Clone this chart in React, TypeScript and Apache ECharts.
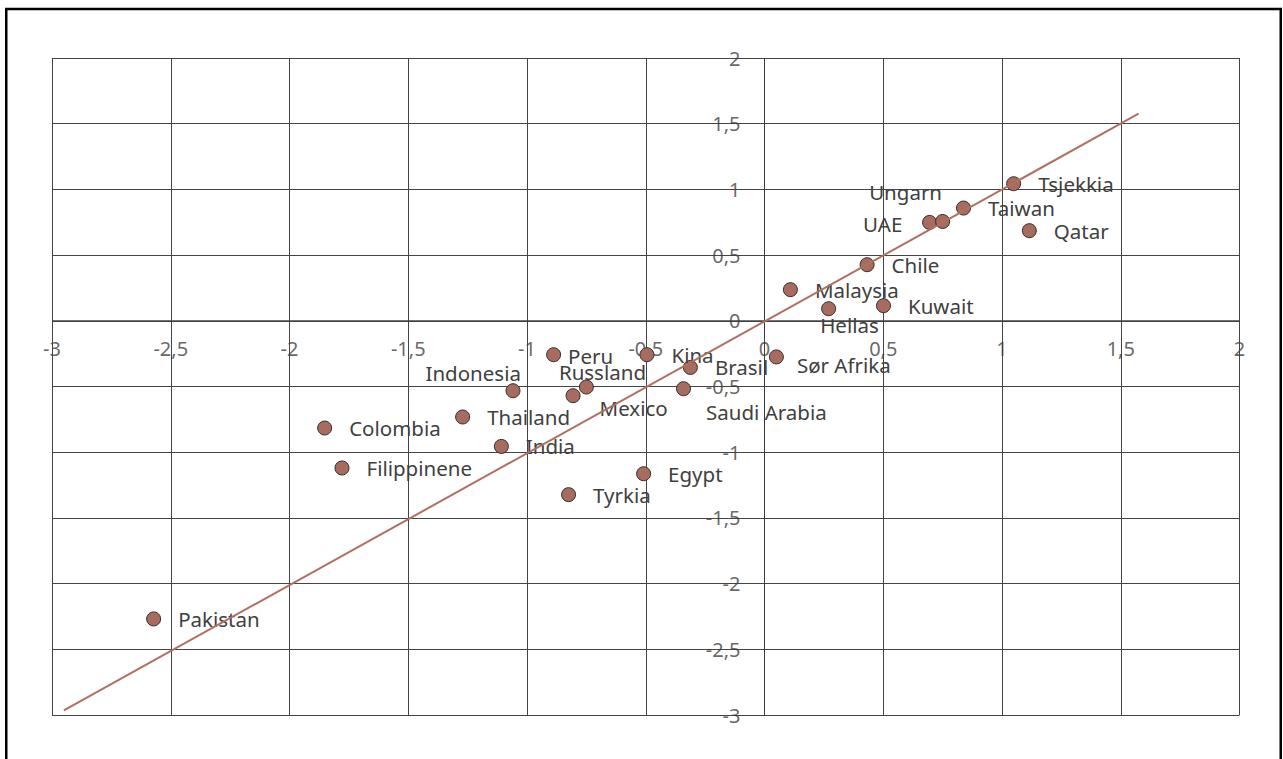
import React, { useEffect, useRef } from "react";
import * as echarts from "echarts";

const countries = [
  "Pakistan", "Colombia", "Filippinene", "Thailand", "India", "Indonesia",
  "Peru", "Russland", "Mexico", "Tyrkia", "Egypt", "Kina", "Brasil",
  "Saudi Arabia", "Sør Afrika", "Malaysia", "Hellas", "Kuwait", "Chile",
  "UAE", "Ungarn", "Taiwan", "Tsjekkia", "Qatar",
];
const xValues = [
  -2.572, -1.852, -1.779, -1.271, -1.108, -1.059,
  -0.888, -0.75, -0.806, -0.825, -0.509, -0.495, -0.312,
  -0.341, 0.05, 0.109, 0.27, 0.501, 0.432,
  0.695, 0.75, 0.838, 1.049, 1.115,
];
const yValues = [
  -2.269, -0.816, -1.12, -0.732, -0.956, -0.532,
  -0.258, -0.504, -0.57, -1.323, -1.164, -0.258, -0.355,
  -0.517, -0.275, 0.237, 0.092, 0.115, 0.427,
  0.749, 0.756, 0.858, 1.043, 0.686,
];
const trendX = [-2.95, 1.575];
const trendY = [-2.965, 1.576];
const xTicks = [-3, -2.5, -2, -1.5, -1, -0.5, 0, 0.5, 1, 1.5, 2];
const yTicks = [-3, -2.5, -2, -1.5, -1, -0.5, 0, 0.5, 1, 1.5, 2];

// label placement tweaks (pixels, relative to default right-side label)
const labelOffsets: Record<string, [number, number]> = {
  Peru: [-10, 1],
  "Sør Afrika": [-4, 8],
  Indonesia: [-112, -18],
  Russland: [-52, -15],
  Mexico: [2, 12],
  "Saudi Arabia": [-2, 23],
  Hellas: [-33, 16],
  UAE: [-91, 2],
  Ungarn: [-98, -29],
};

const fmt = (v: number) => String(v).replace(".", ",");

export default function App() {
  const ref = useRef<HTMLDivElement>(null);
  useEffect(() => {
    if (!ref.current) return;
    const chart = echarts.init(ref.current, undefined, { renderer: "svg" });
    const textColor = "#404040";
    const gridColor = "#444444";
    const axisCommon = {
      type: "value" as const,
      min: -3,
      max: 2,
      interval: 0.5,
      axisLine: { show: false },
      axisTick: { show: false },
      axisLabel: { show: false },
      splitLine: { show: true, lineStyle: { color: gridColor, width: 1 } },
    };
    const tickLabelStyle = {
      show: true,
      fontSize: 20,
      color: textColor,
      fontFamily: "Noto Sans",
    };
    chart.setOption({
      animation: false,
      backgroundColor: "#ffffff",
      textStyle: { fontFamily: "Noto Sans" },
      graphic: [
        {
          type: "rect",
          shape: { x: 6.25, y: 9, width: 1274.5, height: 770 },
          style: { fill: "none", stroke: "#000000", lineWidth: 2.5 },
          silent: true,
        },
      ],
      grid: { left: 52, top: 58, width: 1187.5, height: 657, containLabel: false, outerBoundsMode: "none" },
      xAxis: { ...axisCommon },
      yAxis: { ...axisCommon },
      series: [
        {
          // x tick labels along the zero line
          type: "scatter",
          data: xTicks.map((v) => [v, 0]),
          symbolSize: 0.001,
          itemStyle: { color: "transparent" },
          silent: true,
          clip: false,
          label: {
            ...tickLabelStyle,
            position: "bottom",
            distance: 18,
            formatter: (p: any) => fmt(p.value[0]),
          },
          labelLayout: { hideOverlap: false },
          z: 1,
        },
        {
          // y tick labels along the zero line
          type: "scatter",
          data: yTicks.map((v) => [0, v]),
          symbolSize: 0.001,
          itemStyle: { color: "transparent" },
          silent: true,
          clip: false,
          label: {
            ...tickLabelStyle,
            position: "left",
            distance: 24,
            formatter: (p: any) => fmt(p.value[1]),
          },
          labelLayout: { hideOverlap: false },
          z: 1,
        },
        {
          type: "line",
          data: [
            [0, -3],
            [0, 2],
          ],
          symbol: "none",
          lineStyle: { color: "#3a3a3a", width: 1 },
          silent: true,
          z: 2,
        },
        {
          type: "line",
          data: [
            [-3, 0],
            [2, 0],
          ],
          symbol: "none",
          lineStyle: { color: "#3a3a3a", width: 1 },
          silent: true,
          z: 2,
        },
        {
          type: "scatter",
          data: countries.map((n, i) => ({ name: n, value: [xValues[i], yValues[i]] })),
          symbol: "circle",
          symbolSize: 14,
          itemStyle: { color: "#a86c5e", borderColor: "#2e2e2e", borderWidth: 1, opacity: 1 },
          label: {
            show: true,
            position: "right",
            distance: 17,
            formatter: "{b}",
            fontSize: 20.5,
            color: textColor,
            fontFamily: "Noto Sans",
          },
          labelLayout: (params: any) => {
            const off = labelOffsets[countries[params.dataIndex]];
            return off ? { dx: off[0], dy: off[1], hideOverlap: false } : { hideOverlap: false };
          },
          z: 3,
        },
        {
          type: "line",
          data: trendX.map((x, i) => [x, trendY[i]]),
          symbol: "none",
          lineStyle: { color: "#b0705f", width: 2 },
          silent: true,
          z: 4,
        },
      ],
    });
    return () => chart.dispose();
  }, []);
  return (
    <div
      ref={ref}
      style={{ position: "fixed", left: 0, top: 0, width: 1283, height: 759 }}
    />
  );
}
